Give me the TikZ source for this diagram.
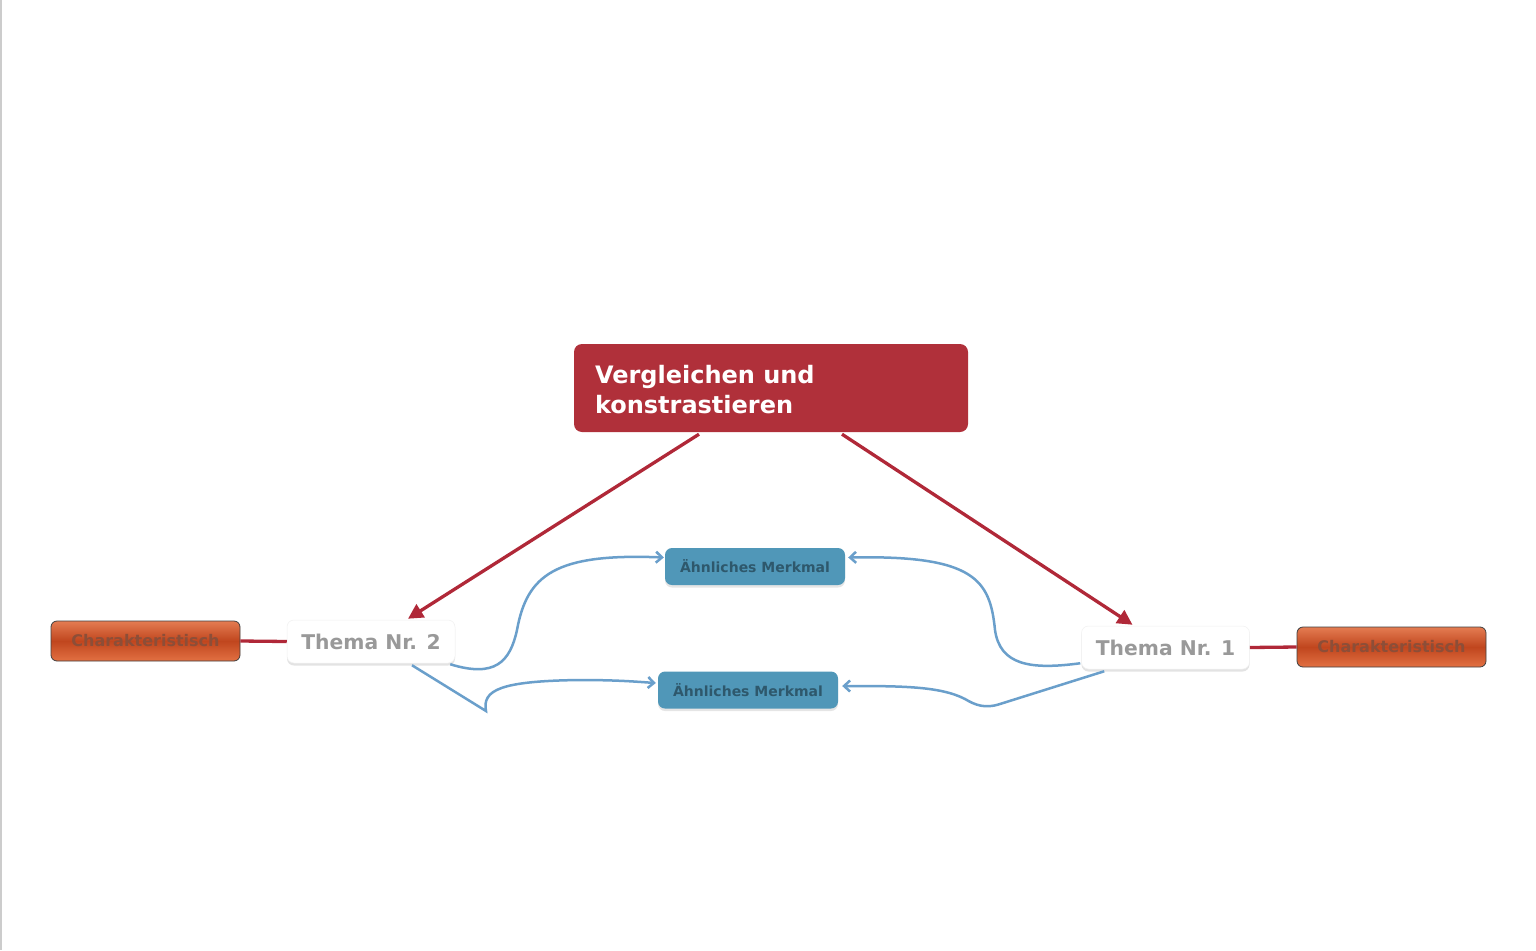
\documentclass[tikz,border=0pt]{standalone}
\usepackage{fontspec}
\newfontfamily\dv{DejaVu Sans}
\usetikzlibrary{arrows.meta,calc,shadows}
\definecolor{mainred}{RGB}{176,48,58}
\definecolor{arrred}{RGB}{176,40,56}
\definecolor{mblue}{RGB}{80,151,184}
\definecolor{mbluetext}{RGB}{46,88,108}
\definecolor{lblue}{RGB}{106,159,203}
\definecolor{orTop}{RGB}{228,124,82}
\definecolor{orMid}{RGB}{192,70,30}
\definecolor{orBot}{RGB}{226,112,66}
\definecolor{ortext}{RGB}{140,78,56}
\definecolor{themagray}{RGB}{153,153,153}
\tikzset{
  mainbox/.style={fill=mainred, rounded corners=8pt, minimum width=394pt, minimum height=88pt,
    text width=352pt, align=left, inner xsep=21pt, text=white,
    font=\dv\bfseries\fontsize{24}{30}\selectfont},
  themabox/.style={fill=white, draw=black!6, line width=0.5pt, rounded corners=7pt, minimum width=168pt, minimum height=43pt,
    text=themagray, font=\dv\bfseries\fontsize{20.3}{22}\selectfont,
    drop shadow={opacity=0.22, shadow xshift=0pt, shadow yshift=-2.5pt}},
  charbox/.style={rounded corners=6pt, minimum width=189pt, minimum height=40pt,
    draw=black!75, line width=0.8pt, top color=orTop, bottom color=orBot, middle color=orMid,
    text=ortext, font=\dv\bfseries\fontsize{16}{18}\selectfont},
  simbox/.style={fill=mblue, rounded corners=7pt, minimum width=180pt, minimum height=37pt,
    text=mbluetext, font=\dv\bfseries\fontsize{14}{16}\selectfont,
    drop shadow={opacity=0.2, shadow xshift=0pt, shadow yshift=-2.5pt}},
  redarrow/.style={draw=arrred, line width=3.3pt, -{Triangle[length=15pt,width=15pt]}},
  redline/.style={draw=arrred, line width=3.3pt},
  bluearrow/.style={draw=lblue, line width=2.5pt, -{Straight Barb[length=6pt,width=11pt]}}
}
\begin{document}
\begin{tikzpicture}[x=1pt,y=-1pt]
\useasboundingbox (0,0) rectangle (1536,950);
\fill[white] (0,0) rectangle (1536,950);
\draw[black!20, line width=1.5pt] (0.75,0) -- (0.75,950);

\node[mainbox] (main) at (771,388) {};
\node[anchor=west, text=white, font=\dv\bfseries\fontsize{24}{30}\selectfont, align=left, inner sep=0pt] (maintext) at ($(main.west)+(21,2)$) {Vergleichen und\\konstrastieren};
\node[themabox] (t2) at (371,641.5) {Thema Nr. 2};
\node[themabox] (t1) at (1165.5,647.5) {Thema Nr. 1};
\node[charbox] (c2) at (145.5,641) {Charakteristisch};
\node[charbox] (c1) at (1391.5,647) {Charakteristisch};
\node[simbox] (a1) at (755,566.5) {Ähnliches Merkmal};
\node[simbox] (b1) at (748,690) {Ähnliches Merkmal};

\draw[redarrow] ($(main.south)+(-72,2)$) -- ($(t2.north)+(37,-1)$);
\draw[redarrow] ($(main.south)+(71,2)$) -- ($(t1.north)+(-33,-1)$);
\draw[redline] (c2.east) -- (t2.west);
\draw[redline] (c1.west) -- (t1.east);

\draw[bluearrow] ($(t2.south east)+(-5,1)$) .. controls (495,678) and (510,662) .. (517,630)
  .. controls (527,575) and (555,553) .. ($(a1.west)+(-1,-9)$);
\draw[bluearrow] ($(t2.south)+(41,2)$) -- (486,711) .. controls (482,690) and (500,681) .. (580,680)
  .. controls (620,680) and (640,682) .. ($(b1.west)+(-2,-7)$);
\draw[bluearrow] ($(t1.south west)+(-1,-6)$) .. controls (1030,670) and (1000,665) .. (995,630)
  .. controls (990,580) and (975,555) .. ($(a1.east)+(3,-9)$);
\draw[bluearrow] ($(t1.south west)+(23,2)$) -- (1000,704) .. controls (985,709) and (975,705) .. (965,699)
  .. controls (940,686) and (900,686) .. ($(b1.east)+(4,-4)$);
\end{tikzpicture}
\end{document}
